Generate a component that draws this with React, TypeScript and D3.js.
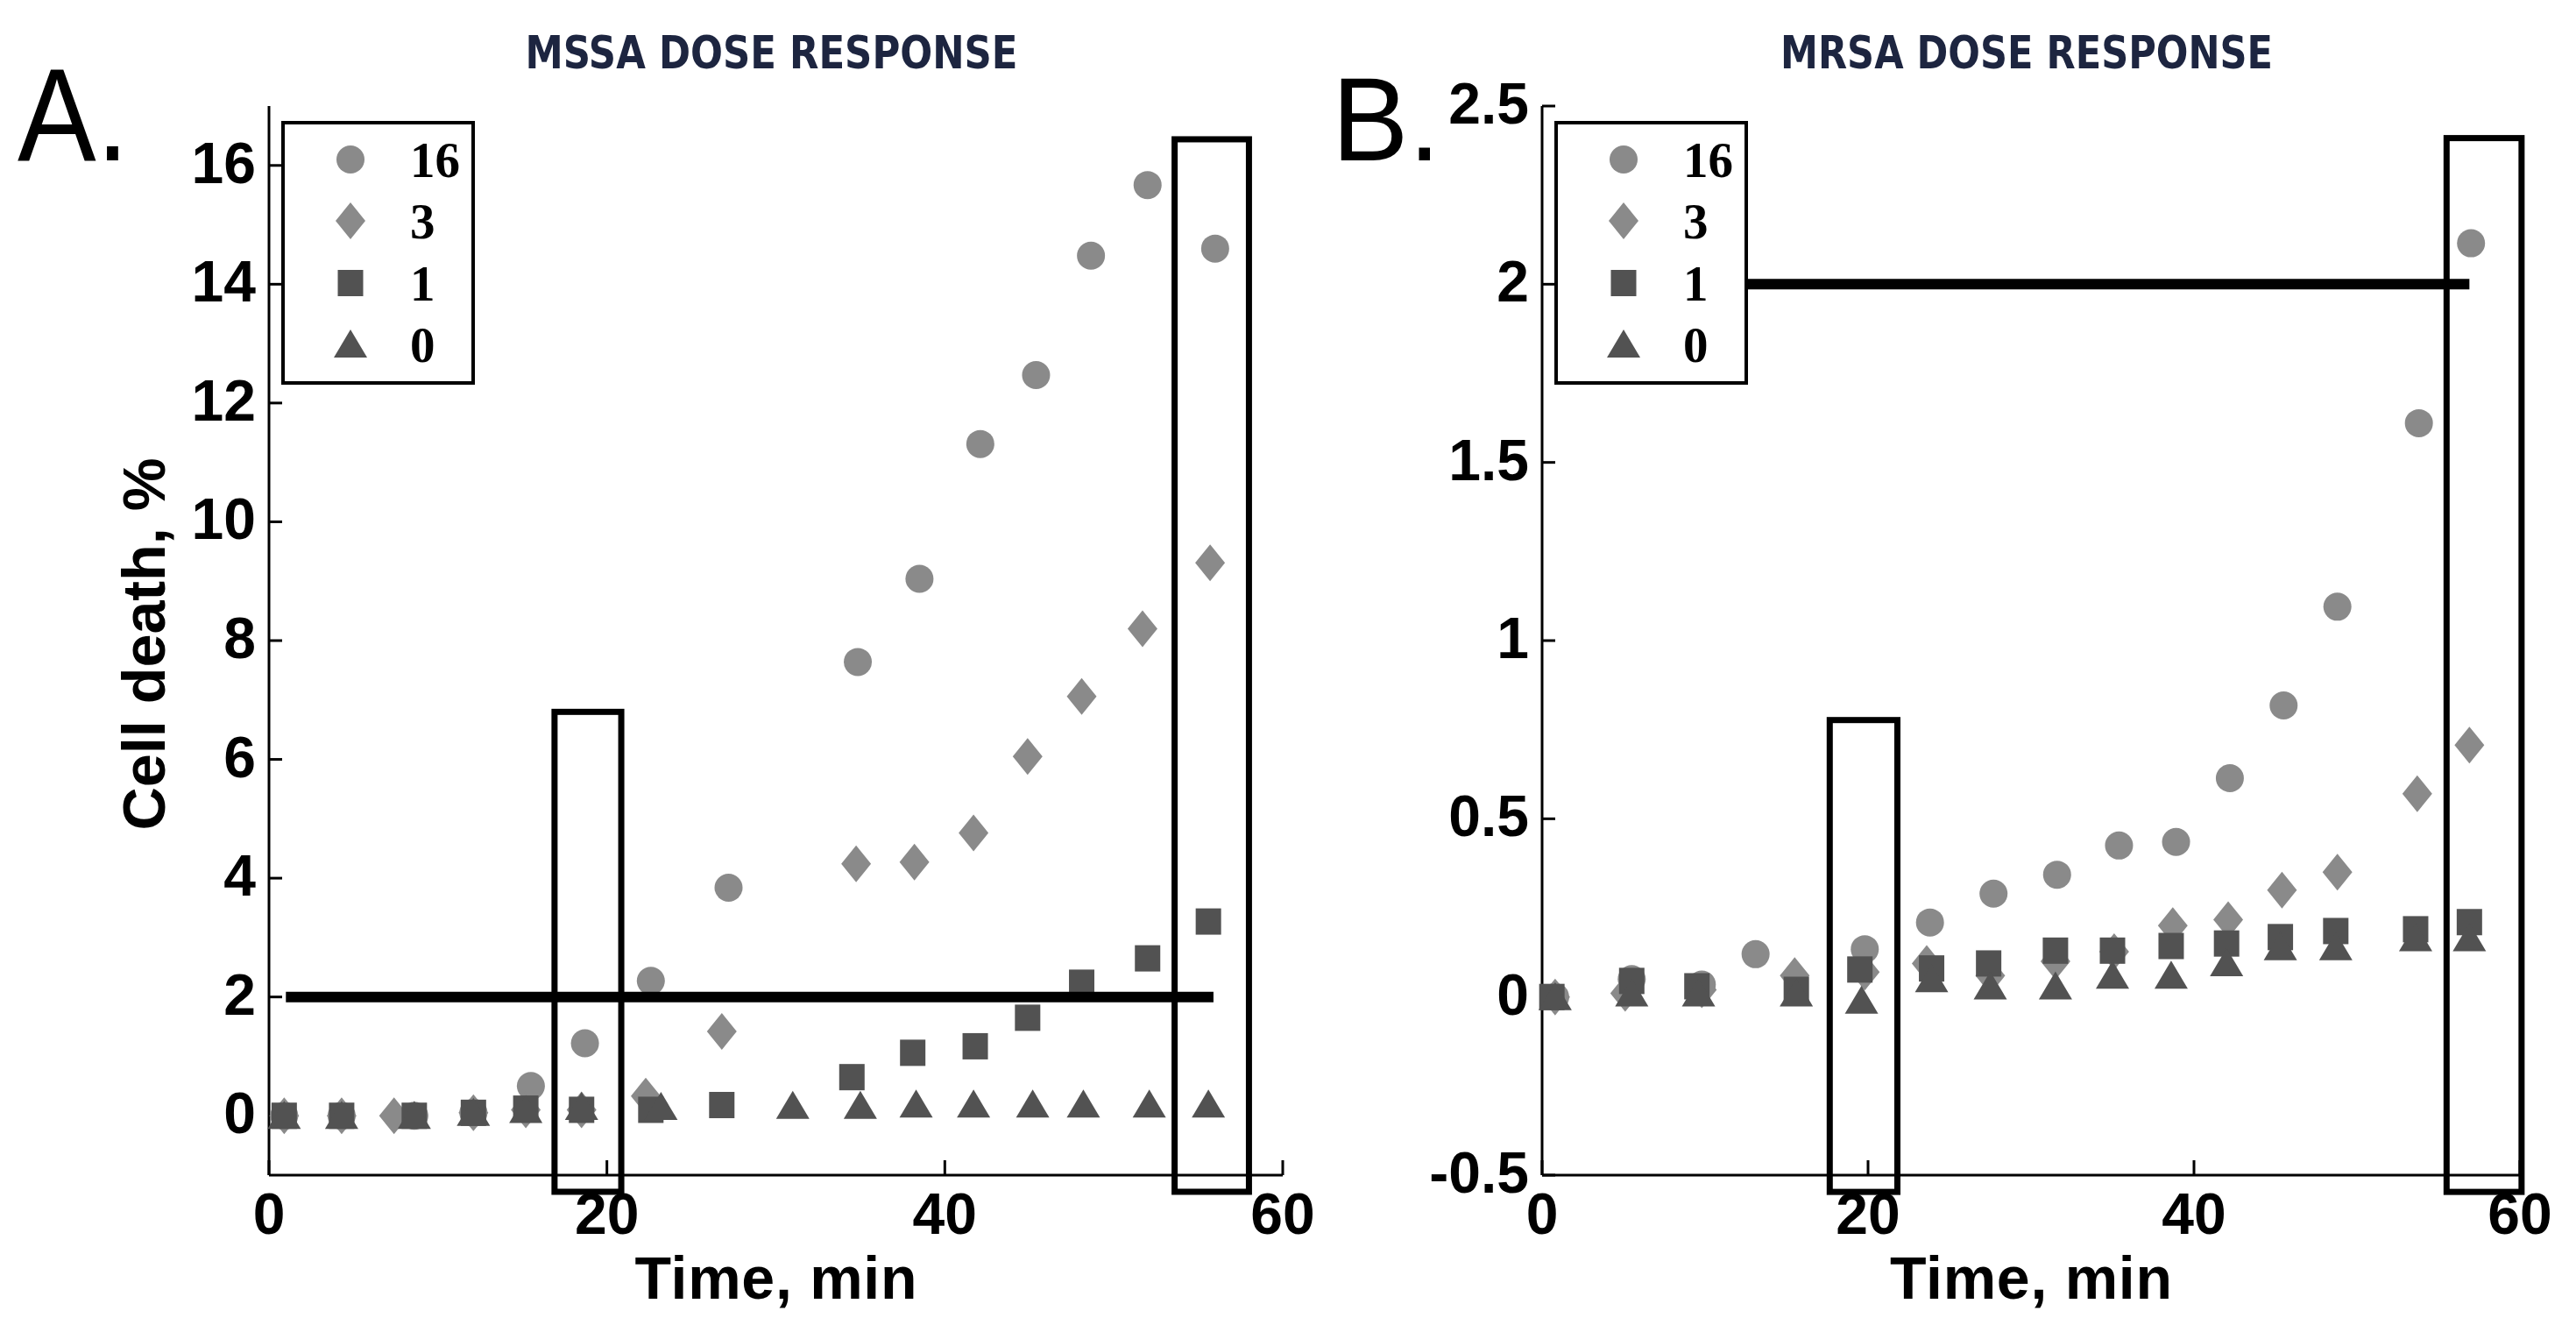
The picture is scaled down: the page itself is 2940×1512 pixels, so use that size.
import React from 'react';
import * as d3 from 'd3';

// ---- data (time in min, cell death in %) ----
const doses = ['16', '3', '1', '0'];
const timeTicks = [0, 20, 40, 60];

const mssa16 = [[0.9, 0], [4.3, 0], [8.6, 0], [12.1, 0.05], [15.5, 0.5], [18.7, 1.22], [22.6, 2.27], [27.2, 3.84], [34.85, 7.64], [38.5, 9.04], [42.1, 11.31], [45.4, 12.47], [48.65, 14.48], [52.0, 15.67], [56.0, 14.6]];
const mssa3 = [[0.9, 0], [4.3, 0], [7.4, 0], [12.1, 0.05], [15.2, 0.1], [18.5, 0.1], [22.3, 0.33], [26.8, 1.42], [34.75, 4.24], [38.2, 4.27], [41.7, 4.76], [44.9, 6.05], [48.1, 7.06], [51.7, 8.2], [55.7, 9.31]];
const mssa1 = [[0.9, 0], [4.3, 0], [8.6, 0], [12.1, 0.05], [15.2, 0.12], [18.5, 0.1], [22.6, 0.1], [26.8, 0.18], [34.5, 0.65], [38.1, 1.06], [41.8, 1.17], [44.9, 1.65], [48.1, 2.24], [52.0, 2.65], [55.6, 3.27]];
const mssa0 = [[0.9, 0], [4.3, 0], [8.6, 0], [12.1, 0.05], [15.2, 0.1], [18.5, 0.15], [23.2, 0.15], [31.0, 0.17], [35.0, 0.17], [38.3, 0.19], [41.7, 0.19], [45.2, 0.19], [48.2, 0.19], [52.1, 0.19], [55.6, 0.19]];
const mssaYTicks = [0, 2, 4, 6, 8, 10, 12, 14, 16];
const mssaWindows = [[16.9, 20.85, 6.8], [53.6, 58.0, 16.44]];
const mssaThreshold = [1.0, 55.9, 2];

const mrsa16 = [[0.8, 0], [5.5, 0.05], [9.8, 0.035], [13.1, 0.12], [19.8, 0.134], [23.8, 0.209], [27.7, 0.29], [31.6, 0.343], [35.4, 0.425], [38.9, 0.435], [42.2, 0.614], [45.5, 0.818], [48.8, 1.095], [53.8, 1.61], [57.0, 2.115]];
const mrsa3 = [[0.8, 0], [5.1, 0.01], [9.8, 0.02], [15.5, 0.06], [19.8, 0.07], [23.6, 0.094], [27.5, 0.06], [31.5, 0.1], [35.1, 0.127], [38.7, 0.2], [42.1, 0.217], [45.4, 0.3], [48.8, 0.35], [53.7, 0.57], [56.9, 0.707]];
const mrsa1 = [[0.6, 0], [5.5, 0.045], [9.5, 0.03], [15.6, 0.02], [19.5, 0.077], [23.9, 0.08], [27.4, 0.094], [31.5, 0.13], [35.0, 0.13], [38.6, 0.143], [42.0, 0.15], [45.3, 0.168], [48.7, 0.185], [53.6, 0.19], [56.9, 0.21]];
const mrsa0 = [[0.8, 0], [5.5, 0.01], [9.6, 0.01], [15.6, 0.01], [19.6, -0.01], [23.9, 0.05], [27.5, 0.03], [31.5, 0.03], [35.0, 0.06], [38.6, 0.06], [42.0, 0.095], [45.3, 0.14], [48.7, 0.14], [53.6, 0.165], [56.9, 0.165]];
const mrsaYTicks = [-0.5, 0, 0.5, 1, 1.5, 2, 2.5];
const mrsaWindows = [[17.65, 21.8, 0.777], [55.5, 60.1, 2.41]];
const mrsaThreshold = [1.0, 56.9, 2];

const LIGHT = '#8a8a8a';
const DARK = '#525252';
const SANS = "'Liberation Sans', Arial, Helvetica, sans-serif";
const NARROW = "'Liberation Sans Narrow', 'Arial Narrow', 'DejaVu Sans Condensed', sans-serif";
const SERIF = "'Liberation Serif', 'Times New Roman', serif";

// marker outline centered on (x, y)
function markerPath(kind: string, x: number, y: number) {
  const p = d3.path();
  if (kind === '16') {
    p.arc(x, y, 16, 0, 2 * Math.PI);
  } else if (kind === '3') {
    p.moveTo(x, y - 21); p.lineTo(x + 17, y); p.lineTo(x, y + 21); p.lineTo(x - 17, y); p.closePath();
  } else if (kind === '1') {
    p.rect(x - 14.5, y - 15, 29, 30);
  } else {
    p.moveTo(x, y - 17); p.lineTo(x + 19, y + 15); p.lineTo(x - 19, y + 15); p.closePath();
  }
  return p.toString();
}
const markerFill = (kind: string) => (kind === '16' || kind === '3' ? LIGHT : DARK);

interface PanelProps {
  letter: string;
  letterX: number;
  letterSize: number;
  letterWidth: number;
  title: string;
  left: number;
  right: number;
  yDomain: [number, number];
  yTicks: number[];
  series: number[][][];
  windows: number[][];
  threshold: number[];
  windowBottom: number;
}

const Panel = ({ letter, letterX, letterSize, letterWidth, title, left, right, yDomain, yTicks, series, windows, threshold, windowBottom }: PanelProps) => {
  const top = 121;
  const bottom = 1341;
  const x = d3.scaleLinear().domain([0, 60]).range([left, right]);
  const y = d3.scaleLinear().domain(yDomain).range([bottom, top]);
  const cx = (left + right) / 2;
  const legendX = left + 16;
  const legendY = 140;
  const rowY = [42, 112, 183, 253];

  return (
    <g>
      <text x={letterX} y={183} fontFamily={SANS} fontSize={letterSize}
        textLength={letterWidth} lengthAdjust="spacingAndGlyphs" fill="#000">{letter}</text>
      <text x={cx - 5} y={78} fontFamily={NARROW} fontWeight="bold" fontSize={51} textAnchor="middle"
        textLength={562} lengthAdjust="spacingAndGlyphs" fill="#1d2540">{title}</text>

      {/* axes */}
      <line x1={left} x2={left} y1={top} y2={bottom} stroke="#000" strokeWidth={3} />
      <line x1={left} x2={right} y1={bottom} y2={bottom} stroke="#000" strokeWidth={3} />
      {yTicks.map((t) => (
        <g key={'y' + t}>
          <line x1={left} x2={left + 15} y1={y(t)} y2={y(t)} stroke="#000" strokeWidth={3} />
          <text x={left - 15} y={y(t) - 3} dominantBaseline="central" textAnchor="end"
            fontFamily={SANS} fontWeight="bold" fontSize={66} fill="#000">{String(t)}</text>
        </g>
      ))}
      {timeTicks.map((t) => (
        <g key={'x' + t}>
          <line x1={x(t)} x2={x(t)} y1={bottom} y2={bottom - 17} stroke="#000" strokeWidth={3} />
          <text x={x(t)} y={1408} textAnchor="middle" fontFamily={SANS} fontWeight="bold"
            fontSize={66} fill="#000">{String(t)}</text>
        </g>
      ))}
      <text x={cx} y={1482} textAnchor="middle" fontFamily={SANS} fontWeight="bold" fontSize={68}
        textLength={322} lengthAdjust="spacing" fill="#000">Time, min</text>
      {letter === 'A.' && (
        <text transform={`translate(188, 735) rotate(-90)`} textAnchor="middle" fontFamily={SANS}
          fontWeight="bold" fontSize={68} textLength={425} lengthAdjust="spacingAndGlyphs" fill="#000">Cell death, %</text>
      )}

      {/* points */}
      {series.map((pts, si) => (
        <g key={'s' + si} fill={markerFill(doses[si])}>
          {pts.map(([t, v], i) => (
            <path key={i} d={markerPath(doses[si], x(t), y(v))} />
          ))}
        </g>
      ))}

      {/* threshold line and highlighted time windows */}
      <line x1={x(threshold[0])} x2={x(threshold[1])} y1={y(threshold[2])} y2={y(threshold[2])}
        stroke="#000" strokeWidth={12} />
      {windows.map(([a, b, h], i) => (
        <rect key={'w' + i} x={x(a)} y={y(h)} width={x(b) - x(a)} height={y(windowBottom) - y(h)}
          fill="none" stroke="#000" strokeWidth={7} />
      ))}

      {/* legend */}
      <rect x={legendX} y={legendY} width={217} height={297} fill="#fff" stroke="#000" strokeWidth={4} />
      {doses.map((d, i) => (
        <g key={'l' + d}>
          <path d={markerPath(d, legendX + 77, legendY + rowY[i])} fill={markerFill(d)} />
          <text x={legendX + 145} y={legendY + rowY[i] + 20} fontFamily={SERIF} fontWeight="bold"
            fontSize={57} fill="#000">{d}</text>
        </g>
      ))}
    </g>
  );
};

export default function App() {
  return (
    <svg width={2940} height={1512} style={{ position: 'absolute', left: 0, top: 0, background: '#fff' }}>
      <rect width={2940} height={1512} fill="#fff" />
      <Panel letter="A." letterX={20} letterSize={150} letterWidth={127} title="MSSA DOSE RESPONSE"
        left={307} right={1464} yDomain={[-1, 17]}
        yTicks={mssaYTicks} series={[mssa16, mssa3, mssa1, mssa0]} windows={mssaWindows}
        threshold={mssaThreshold} windowBottom={-1.28} />
      <Panel letter="B." letterX={1520} letterSize={135} letterWidth={124} title="MRSA DOSE RESPONSE"
        left={1760} right={2876} yDomain={[-0.5, 2.5]}
        yTicks={mrsaYTicks} series={[mrsa16, mrsa3, mrsa1, mrsa0]} windows={mrsaWindows}
        threshold={mrsaThreshold} windowBottom={-0.547} />
    </svg>
  );
}
